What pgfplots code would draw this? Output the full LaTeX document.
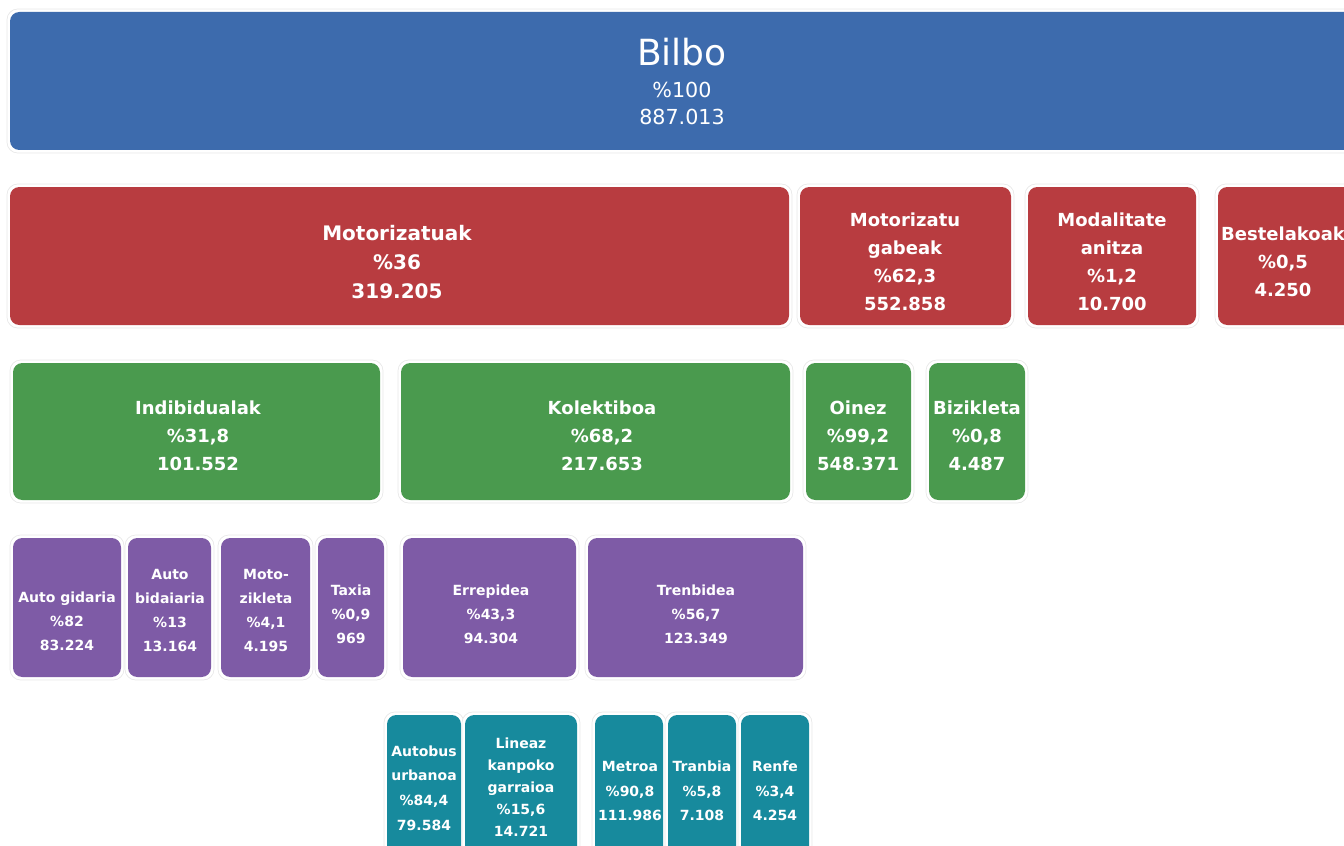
\documentclass[border=0pt]{standalone}
\usepackage{fontspec}
\setmainfont{DejaVu Sans}
\usepackage{pgfplots}
\pgfplotsset{compat=1.18}
\definecolor{bblue}{RGB}{61,107,173}
\definecolor{bred}{RGB}{184,60,64}
\definecolor{bgreen}{RGB}{74,154,78}
\definecolor{bpurple}{RGB}{126,91,166}
\definecolor{bteal}{RGB}{23,138,157}
% box: x0 x1 y0 y1 colour (pixel units, y downwards)
\newcommand{\bx}[5]{%
  \addplot[draw=black!9, fill=white, line width=0.5pt, rounded corners=8pt]
    coordinates {(#1-3,#3-3) (#2+3,#3-3) (#2+3,#4+3) (#1-3,#4+3)} -- cycle;
  \addplot[fill=#5, draw=none, rounded corners=7pt]
    coordinates {(#1,#3) (#2,#3) (#2,#4) (#1,#4)} -- cycle;}
\newcommand{\lb}[4]{\node[text=white, align=center, inner sep=0pt, font=#3] at (axis cs:#1,#2) {#4};}
\begin{document}
\begin{tikzpicture}
\begin{axis}[
  scale only axis, width=1008pt, height=633.75pt,
  xmin=0, xmax=1344, ymin=0, ymax=845, y dir=reverse,
  hide axis, clip=true]
% level 0
\bx{10}{1360}{12}{150}{bblue}
% level 1
\bx{10}{789}{187}{325}{bred}
\bx{800}{1011}{187}{325}{bred}
\bx{1028}{1196}{187}{325}{bred}
\bx{1218}{1360}{187}{325}{bred}
% level 2
\bx{13}{380}{363}{500}{bgreen}
\bx{401}{790}{363}{500}{bgreen}
\bx{806}{911}{363}{500}{bgreen}
\bx{929}{1025}{363}{500}{bgreen}
% level 3
\bx{13}{121}{538}{677}{bpurple}
\bx{128}{211}{538}{677}{bpurple}
\bx{221}{310}{538}{677}{bpurple}
\bx{318}{384}{538}{677}{bpurple}
\bx{403}{576}{538}{677}{bpurple}
\bx{588}{803}{538}{677}{bpurple}
% level 4
\bx{387}{461}{715}{870}{bteal}
\bx{465}{577}{715}{870}{bteal}
\bx{595}{663}{715}{870}{bteal}
\bx{668}{736}{715}{870}{bteal}
\bx{741}{809}{715}{870}{bteal}
% labels
\lb{682}{52}{\fontsize{27}{30}\selectfont}{Bilbo}
\lb{682}{90}{\fontsize{15.5}{18}\selectfont}{\%100}
\lb{682}{117}{\fontsize{15.5}{18}\selectfont}{887.013}
\def\fr{\fontsize{13.5}{21}\selectfont\bfseries}
\lb{397}{262}{\fontsize{15}{21.5}\selectfont\bfseries}{Motorizatuak\\\%36\\319.205}
\lb{905}{262}{\fr}{Motorizatu\\gabeak\\\%62,3\\552.858}
\lb{1112}{262}{\fr}{Modalitate\\anitza\\\%1,2\\10.700}
\lb{1283}{262}{\fr}{Bestelakoak\\\%0,5\\4.250}
\lb{198}{436}{\fr}{Indibidualak\\\%31,8\\101.552}
\lb{602}{436}{\fr}{Kolektiboa\\\%68,2\\217.653}
\lb{858}{436}{\fr}{Oinez\\\%99,2\\548.371}
\lb{977}{436}{\fr}{Bizikleta\\\%0,8\\4.487}
\def\fp{\fontsize{10.5}{18}\selectfont\bfseries}
\lb{67}{621}{\fp}{Auto gidaria\\\%82\\83.224}
\lb{170}{610}{\fp}{Auto\\bidaiaria\\\%13\\13.164}
\lb{266}{610}{\fp}{Moto-\\zikleta\\\%4,1\\4.195}
\lb{351}{614}{\fp}{Taxia\\\%0,9\\969}
\lb{491}{614}{\fp}{Errepidea\\\%43,3\\94.304}
\lb{696}{614}{\fp}{Trenbidea\\\%56,7\\123.349}
\def\ft{\fontsize{10.5}{18.5}\selectfont\bfseries}
\lb{424}{788}{\ft}{Autobus\\urbanoa\\\%84,4\\79.584}
\lb{521}{787}{\fontsize{10.5}{16.5}\selectfont\bfseries}{Lineaz\\kanpoko\\garraioa\\\%15,6\\14.721}
\lb{630}{791}{\ft}{Metroa\\\%90,8\\111.986}
\lb{702}{791}{\ft}{Tranbia\\\%5,8\\7.108}
\lb{775}{791}{\ft}{Renfe\\\%3,4\\4.254}
\end{axis}
\pgfresetboundingbox
\path[use as bounding box] (current axis.south west) rectangle (current axis.north east);
\end{tikzpicture}
\end{document}
